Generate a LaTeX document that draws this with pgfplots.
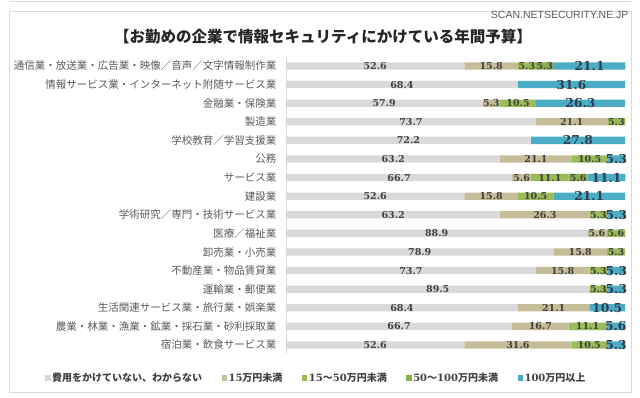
\documentclass[border=0pt]{standalone}
\usepackage{pgfplots}
\pgfplotsset{compat=1.18}
\usepackage{pgfplotstable}
\usepackage{fontspec}
\setmainfont{Noto Sans CJK JP}
\newfontfamily\jp{Noto Sans CJK JP}
\newfontfamily\numf{DejaVu Serif}
\newfontfamily\latin{Liberation Sans}
\definecolor{cA}{HTML}{D9D9D9}
\definecolor{cB}{HTML}{C4BD97}
\definecolor{cC}{HTML}{9BBB59}
\definecolor{cD}{HTML}{8DB04E}
\definecolor{cE}{HTML}{4BACC6}
\definecolor{frame}{HTML}{D9D9D9}
\definecolor{txt}{HTML}{404040}
\definecolor{lbl}{HTML}{595959}
\definecolor{bluetxt}{HTML}{2F3E50}

\pgfplotstableread{
row A B C D E
0 52.6 15.8 5.3 5.3 21.1
1 68.4 0 0 0 31.6
2 57.9 5.3 10.5 0 26.3
3 73.7 21.1 5.3 0 0
4 72.2 0 0 0 27.8
5 63.2 21.1 10.5 0 5.3
6 66.7 5.6 11.1 5.6 11.1
7 52.6 15.8 10.5 0 21.1
8 63.2 26.3 5.3 0 5.3
9 88.9 5.6 5.6 0 0
10 78.9 15.8 5.3 0 0
11 73.7 15.8 5.3 0 5.3
12 89.5 0 5.3 0 5.3
13 68.4 21.1 0 0 10.5
14 66.7 16.7 11.1 0 5.6
15 52.6 31.6 10.5 0 5.3
}\data

\pgfplotsset{
  geom/.style={at={(286pt,43.7pt)}, anchor=south west,
    scale only axis, width=339pt, height=297.6pt,
    xmin=0, xmax=100, ymin=-0.5, ymax=15.5, y dir=reverse, clip=false},
  seglabel/.style 2 args={only marks, mark=none,
    /pgf/number format/assume math mode=true,
    nodes near coords={\pgfmathfloatifflags{\pgfplotspointmeta}{0}{}{\pgfmathprintnumber[fixed,fixed zerofill,precision=1,assume math mode=true]{\pgfplotspointmeta}}},
    every node near coord/.style={anchor=center, inner sep=0pt,
      font=\numf\bfseries\fontsize{#1}{#1}\selectfont, text=#2}},
}

\begin{document}
\begin{tikzpicture}[x=1pt,y=1pt]
\path[use as bounding box] (0,0) rectangle (640,398);
\draw[frame, line width=0.8pt] (9,6) rectangle (631,387);
\draw[frame, line width=0.8pt] (10,396.5) -- (631,396.5);
\node[anchor=east, font=\latin\fontsize{10.5}{11}\selectfont, text=lbl] at (632,383) {SCAN.NETSECURITY.NE.JP};
\node[font=\jp\bfseries\fontsize{15.5}{16}\selectfont, text=black!85] at (323,361) {【お勤めの企業で情報セキュリティにかけている年間予算】};
\begin{axis}[
  geom,
  xbar stacked, bar width=7.3pt,
  axis x line=none, axis y line*=left,
  axis line style={draw=frame, line width=0.8pt},
  ytick={0,...,15},
  yticklabels={通信業・放送業・広告業・映像／音声／文字情報制作業,
    情報サービス業・インターネット附随サービス業,
    金融業・保険業, 製造業, 学校教育／学習支援業, 公務, サービス業, 建設業,
    学術研究／専門・技術サービス業, 医療／福祉業, 卸売業・小売業,
    不動産業・物品賃貸業, 運輸業・郵便業, 生活関連サービス業・旅行業・娯楽業,
    農業・林業・漁業・鉱業・採石業・砂利採取業, 宿泊業・飲食サービス業},
  yticklabel style={font=\jp\fontsize{10.5}{11}\selectfont, text=lbl, xshift=-6pt},
  major tick length=0pt,
  legend columns=5,
  legend style={at={(0.0885,-0.0796)}, anchor=center, draw=none, fill=none,
    font=\jp\bfseries\fontsize{10}{11}\selectfont, text=txt,
    /tikz/every even column/.append style={column sep=18pt},
    nodes={inner sep=1.5pt}},
  legend image code/.code={\draw[#1, draw=none] (0pt,-2.6pt) rectangle (5.5pt,2.6pt);},
]
\addplot[fill=cA, draw=none] table[x=A,y=row]{\data};
\addplot[fill=cB, draw=none] table[x=B,y=row]{\data};
\addplot[fill=cC, draw=none] table[x=C,y=row]{\data};
\addplot[fill=cD, draw=none] table[x=D,y=row]{\data};
\addplot[fill=cE, draw=none] table[x=E,y=row]{\data};
\legend{費用をかけていない、わからない,{\numf 15\jp 万円未満},{\numf 15\jp ～\numf 50\jp 万円未満},{\numf 50\jp ～\numf 100\jp 万円未満},{\numf 100\jp 万円以上}}
\end{axis}
\begin{axis}[geom, hide axis]
\addplot[seglabel={9.5}{txt}, point meta=\thisrow{A}] table[x expr=\thisrow{A}/2, y=row]{\data};
\addplot[seglabel={9.5}{txt}, point meta=\thisrow{B}] table[x expr=\thisrow{A}+\thisrow{B}/2, y=row]{\data};
\addplot[seglabel={9.5}{txt}, point meta=\thisrow{C}] table[x expr=\thisrow{A}+\thisrow{B}+\thisrow{C}/2, y=row]{\data};
\addplot[seglabel={9.5}{txt}, point meta=\thisrow{D}] table[x expr=\thisrow{A}+\thisrow{B}+\thisrow{C}+\thisrow{D}/2, y=row]{\data};
\addplot[seglabel={12.3}{bluetxt}, point meta=\thisrow{E}] table[x expr=\thisrow{A}+\thisrow{B}+\thisrow{C}+\thisrow{D}+\thisrow{E}/2, y=row]{\data};
\end{axis}
\end{tikzpicture}
\end{document}
